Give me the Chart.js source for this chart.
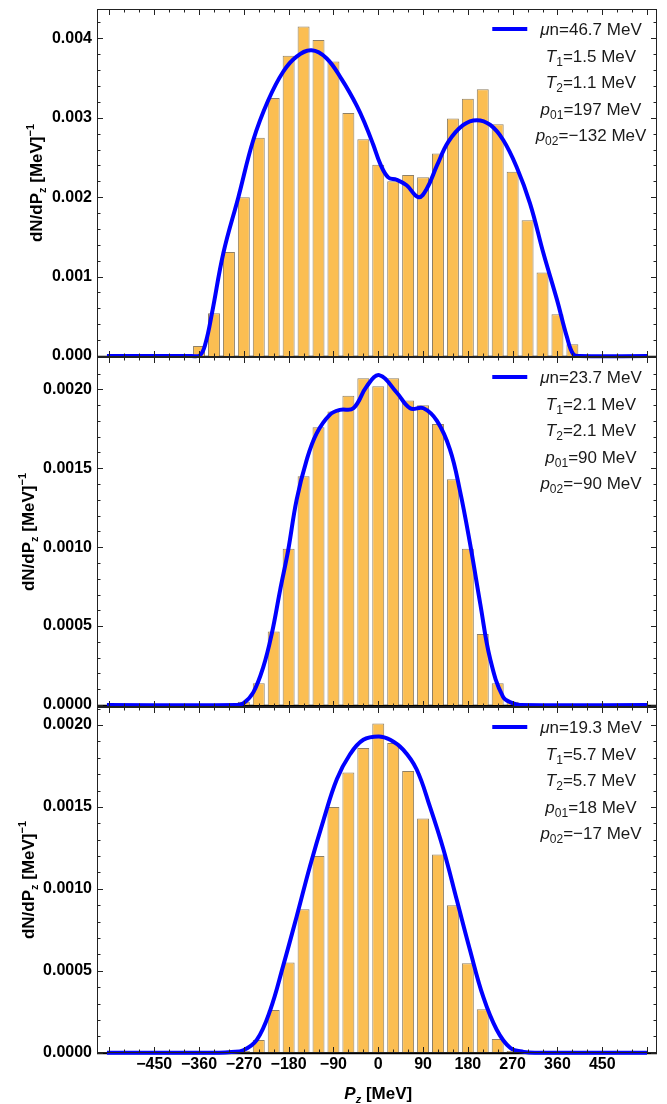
<!DOCTYPE html>
<html>
<head>
<meta charset="utf-8">
<script src="https://cdn.jsdelivr.net/npm/chart.js@4.4.1/dist/chart.umd.min.js"></script>
<style>
  html, body { margin: 0; padding: 0; background: #fff; }
  #wrap { position: relative; width: 667px; height: 1104px; }
  canvas { position: absolute; left: 0; }
</style>
</head>
<body>
<div id="wrap">
  <canvas id="panel1" width="667" height="370" style="top:0px"></canvas>
  <canvas id="panel2" width="667" height="380" style="top:340px"></canvas>
  <canvas id="panel3" width="667" height="414" style="top:690px"></canvas>
</div>
<script>
// histogram bins (MeV) and heights, one set per panel
const bins1 = [-360, -330, -300, -270, -240, -210, -180, -150, -120, -90, -60, -30, 0, 30, 60, 90, 120, 150, 180, 210, 240, 270, 300, 330, 360, 390]
const hist1 = [0.000126, 0.000538, 0.00131, 0.0020, 0.00275, 0.00325, 0.00378, 0.00415, 0.00398, 0.00371, 0.00306, 0.00273, 0.00241, 0.0022, 0.00228, 0.00225, 0.00255, 0.00299, 0.00324, 0.00336, 0.00292, 0.00232, 0.00171, 0.00105, 0.000525, 0.000147]

const bins2 = [-270, -240, -210, -180, -150, -120, -90, -60, -30, 0, 30, 60, 90, 120, 150, 180, 210, 240, 270]
const hist2 = [0.00002, 0.000138, 0.000465, 0.00099, 0.00145, 0.00176, 0.00186, 0.00196, 0.00207, 0.00202, 0.00207, 0.00193, 0.0019, 0.00178, 0.00143, 0.00099, 0.00045, 0.000138, 0.00002]

const bins3 = [-270, -240, -210, -180, -150, -120, -90, -60, -30, 0, 30, 60, 90, 120, 150, 180, 210, 240, 270]
const hist3 = [0.00001, 0.000078, 0.00026, 0.00055, 0.000875, 0.0012, 0.0015, 0.00171, 0.00186, 0.00201, 0.00189, 0.00172, 0.00143, 0.00121, 0.0009, 0.000546, 0.000265, 0.000084, 0.00001]

// fitted curves
const fitX1 = [-545, -375, -358, -347, -334, -311, -281, -251, -221, -191, -164, -134, -104, -73, -43, -25, -10, 4, 20, 37, 57, 81, 97, 118, 141, 171, 198, 225, 251, 278, 305, 332, 359, 379, 392, 405, 540]
const fitY1 = [0, 0, 0.00001, 0.00016, 0.00054, 0.0013, 0.0020, 0.00272, 0.00322, 0.00358, 0.00377, 0.00385, 0.00375, 0.00348, 0.00315, 0.0029, 0.00266, 0.00242, 0.00225, 0.00222, 0.00215, 0.0020, 0.0021, 0.0024, 0.0027, 0.00291, 0.00297, 0.00291, 0.00272, 0.00238, 0.00192, 0.00129, 0.00071, 0.00024, 0.00002, 0, 0]

const fitX2 = [-545, -285, -271, -251, -231, -214, -197, -181, -164, -144, -124, -97, -77, -50, -23, 2, 37, 64, 91, 118, 144, 164, 184, 205, 225, 251, 271, 285, 540]
const fitY2 = [0, 0, 0.00001, 0.00008, 0.00024, 0.00045, 0.00073, 0.00098, 0.0013, 0.00155, 0.00172, 0.00184, 0.00187, 0.00188, 0.00202, 0.00209, 0.00198, 0.00188, 0.00188, 0.0018, 0.00162, 0.00136, 0.00103, 0.00064, 0.00029, 0.00005, 0.00001, 0, 0]

const fitX3 = [-545, -320, -295, -271, -244, -217, -191, -164, -137, -110, -83, -57, -30, 1, 24, 50, 77, 104, 131, 158, 184, 211, 238, 265, 292, 320, 540]
const fitY3 = [0, 0, 0.000004, 0.000015, 0.000078, 0.00026, 0.00053, 0.00083, 0.00114, 0.00142, 0.00167, 0.00182, 0.00191, 0.00193, 0.00191, 0.00185, 0.00173, 0.0015, 0.00124, 0.00093, 0.00063, 0.00034, 0.00014, 0.00003, 0.000005, 0, 0]

// fit parameters shown in the legends
const muN = [46.7, 23.7, 19.3]
const temp1 = [1.5, 2.1, 5.7]
const temp2 = [1.1, 2.1, 5.7]
const p01 = [197, 90, 18]
const p02 = [-132, -90, -17]

// tick labels
const xTickValues = [-450, -360, -270, -180, -90, 0, 90, 180, 270, 360, 450]
const yTicks1 = [0, 0.001, 0.002, 0.003, 0.004]
const yTicks23 = [0, 0.0005, 0.001, 0.0015, 0.002]

const FONT = '"Liberation Sans", Arial, sans-serif'
const minus = v => v < 0 ? `\u2212${Math.abs(v)}` : `${v}`

function drawPieces(ctx, pieces, x, y) {
    let w = 0
    pieces.forEach(p => {
        ctx.font = p.font
        p.w = ctx.measureText(p.t).width
        w += p.w
    })
    let cx = x - w / 2
    pieces.forEach(p => {
        ctx.font = p.font
        ctx.fillText(p.t, cx, y + (p.dy || 0))
        cx += p.w
    })
    return x - w / 2
}

function makeFramePlugin(i, cfg) {
    return {
        id: `frame${i}`,
        beforeDatasetsDraw(chart) {
            const { ctx, chartArea: a, scales: { y } } = chart
            const y0 = Math.round(y.getPixelForValue(0)) + 0.5
            ctx.save()
            ctx.strokeStyle = "#000"
            ctx.lineWidth = 1.5
            ctx.beginPath()
            ctx.moveTo(a.left, y0)
            ctx.lineTo(a.right, y0)
            ctx.stroke()
            ctx.restore()
        },
        afterDatasetsDraw(chart) {
            const { ctx, chartArea: a, scales: { x, y } } = chart
            ctx.save()
            ctx.strokeStyle = "#222"
            ctx.lineWidth = 1
            ctx.strokeRect(a.left + 0.5, a.top + 0.5, a.right - a.left - 1, a.bottom - a.top - 1)

            // inward ticks on all four sides
            ctx.beginPath()
            for (let v = -540; v <= 540; v += 30) {
                const px = Math.round(x.getPixelForValue(v)) + 0.5
                if (px < a.left + 2 || px > a.right - 2) continue
                const len = v % 90 === 0 ? 6 : 3.5
                ctx.moveTo(px, a.bottom); ctx.lineTo(px, a.bottom - len)
                ctx.moveTo(px, a.top); ctx.lineTo(px, a.top + len)
            }
            for (let k = 0; k * cfg.yMinor <= y.max; k++) {
                const py = Math.round(y.getPixelForValue(k * cfg.yMinor)) + 0.5
                if (py < a.top + 2) continue
                const len = k % cfg.yEvery === 0 ? 6 : 3.5
                ctx.moveTo(a.left, py); ctx.lineTo(a.left + len, py)
                ctx.moveTo(a.right, py); ctx.lineTo(a.right - len, py)
            }
            ctx.stroke()

            // legend
            ctx.fillStyle = "#1a1a1a"
            ctx.textBaseline = "alphabetic"
            const big = `17px ${FONT}`
            const ital = `italic 17px ${FONT}`
            const small = `12px ${FONT}`
            const rows = [
                [{ t: "\u03bc", font: ital }, { t: `n=${muN[i].toFixed(1)} MeV`, font: big }],
                [{ t: "T", font: ital }, { t: "1", font: small, dy: 4 }, { t: `=${temp1[i].toFixed(1)} MeV`, font: big }],
                [{ t: "T", font: ital }, { t: "2", font: small, dy: 4 }, { t: `=${temp2[i].toFixed(1)} MeV`, font: big }],
                [{ t: "p", font: ital }, { t: "01", font: small, dy: 4 }, { t: `=${minus(p01[i])} MeV`, font: big }],
                [{ t: "p", font: ital }, { t: "02", font: small, dy: 4 }, { t: `=${minus(p02[i])} MeV`, font: big }],
            ]
            const cx = a.right - 66
            rows.forEach((row, r) => {
                const base = a.top + 20 + r * 26.5 + 6
                const left = drawPieces(ctx, row, cx, base)
                if (r === 0) {
                    ctx.strokeStyle = "#0000ff"
                    ctx.lineWidth = 4
                    ctx.beginPath()
                    ctx.moveTo(left - 48, a.top + 20)
                    ctx.lineTo(left - 13, a.top + 20)
                    ctx.stroke()
                }
            })

            // y axis title
            ctx.fillStyle = "#000"
            ctx.translate(cfg.titleX, (a.top + a.bottom) / 2)
            ctx.rotate(-Math.PI / 2)
            const b17 = `bold 17px ${FONT}`
            const b11 = `bold 11px ${FONT}`
            drawPieces(ctx, [
                { t: "dN/dP", font: b17 }, { t: "z", font: b11, dy: 4 },
                { t: " [MeV]", font: b17 }, { t: "\u22121", font: b11, dy: -8 }
            ], 0, 0)
            ctx.restore()

            if (cfg.xTitle) {
                ctx.save()
                ctx.fillStyle = "#000"
                drawPieces(ctx, [
                    { t: "P", font: `italic bold 17px ${FONT}` },
                    { t: "z", font: `italic bold 11px ${FONT}`, dy: 4 },
                    { t: " [MeV]", font: b17 }
                ], x.getPixelForValue(0), chart.height - 5)
                ctx.restore()
            }
        }
    }
}

function createPanel(i, bins, hist, fitX, fitY, yMin, yMax, yTicks, decimals, cfg) {
    const canvas = document.getElementById(`panel${i + 1}`)
    const tickFont = { family: FONT, size: 16, weight: "bold" }

    return new Chart(canvas, {
        type: "bar",
        data: {
            datasets: [{
                type: "line",
                data: fitX.map((x, k) => ({ x, y: fitY[k] })),
                borderColor: "#0000ff",
                borderWidth: 4,
                pointRadius: 0,
                tension: 0.4,
                clip: 4,
                order: 0,
            }, {
                type: "bar",
                data: bins.map((x, k) => ({ x, y: hist[k] })),
                backgroundColor: "rgb(251,190,82)",
                borderColor: "rgba(105,85,50,0.75)",
                borderWidth: 1,
                barPercentage: 0.8,
                categoryPercentage: 1,
                order: 1,
            }]
        },
        options: {
            responsive: false,
            animation: false,
            layout: { padding: cfg.padding },
            plugins: { legend: { display: false }, tooltip: { enabled: false } },
            scales: {
                x: {
                    type: "linear",
                    offset: false,
                    min: -565,
                    max: 560,
                    display: !!cfg.xTitle,
                    afterFit: s => {
                        s.height = cfg.xTitle ? 51 : 0
                        s.paddingLeft = 0
                        s.paddingRight = 0
                    },
                    afterBuildTicks: s => { s.ticks = xTickValues.map(v => ({ value: v })) },
                    ticks: {
                        padding: 2,
                        autoSkip: false,
                        maxRotation: 0,
                        color: "#000",
                        font: tickFont,
                        callback: v => minus(v),
                    },
                    grid: { display: false, drawTicks: false },
                    border: { display: false },
                },
                y: {
                    min: yMin,
                    max: yMax,
                    afterFit: s => {
                        s.width = 97
                        s.paddingTop = 0
                        s.paddingBottom = 0
                    },
                    afterBuildTicks: s => { s.ticks = yTicks.map(v => ({ value: v })) },
                    ticks: {
                        padding: 5,
                        color: "#000",
                        font: tickFont,
                        callback: v => v.toFixed(decimals),
                    },
                    grid: { display: false, drawTicks: false },
                    border: { display: false },
                }
            }
        },
        plugins: [makeFramePlugin(i, cfg)]
    })
}

createPanel(0, bins1, hist1, fitX1, fitY1, -0.0000126, 0.00437, yTicks1, 3,
    { padding: { top: 9, right: 10, bottom: 13, left: 0 }, yMinor: 0.0002, yEvery: 5, titleX: 42 })
createPanel(1, bins2, hist2, fitX2, fitY2, -0.0000127, 0.002205, yTicks23, 4,
    { padding: { top: 17, right: 10, bottom: 13, left: 0 }, yMinor: 0.0001, yEvery: 5, titleX: 34 })
createPanel(2, bins3, hist3, fitX3, fitY3, -0.000002, 0.00211, yTicks23, 4,
    { padding: { top: 17, right: 10, bottom: 0, left: 0 }, yMinor: 0.0001, yEvery: 5, titleX: 34, xTitle: true })
</script>
</body>
</html>
